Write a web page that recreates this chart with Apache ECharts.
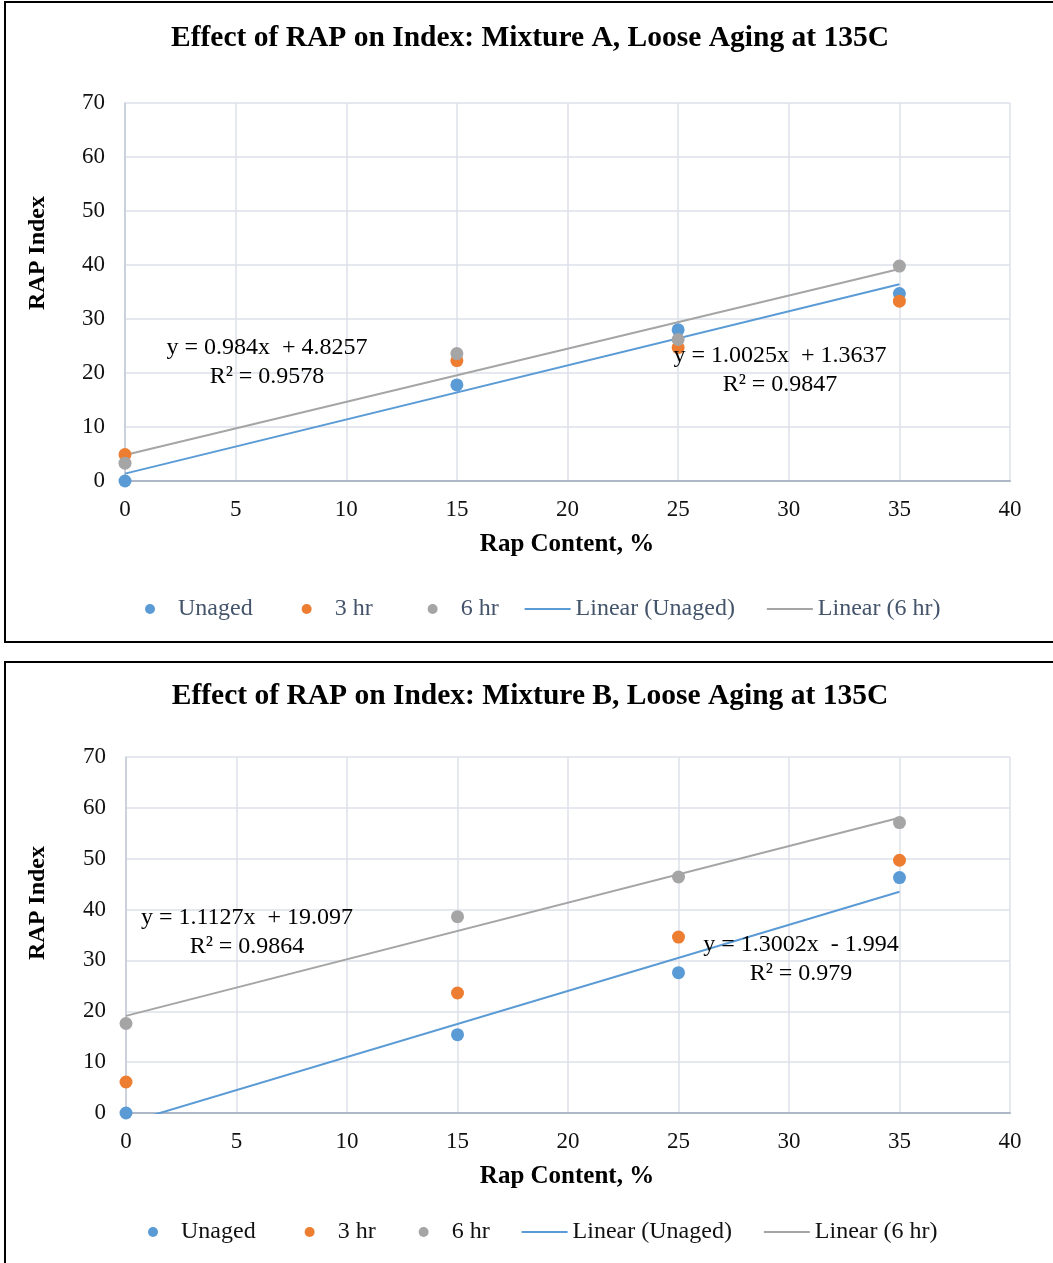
<!DOCTYPE html>
<html>
<head>
<meta charset="utf-8">
<script src="https://cdn.jsdelivr.net/npm/echarts@6/dist/echarts.min.js"></script>
<style>
    html, body { margin: 0; padding: 0; background: #fff; }
    #chart { width: 1053px; height: 1263px; }
</style>
</head>
<body>
<div id="chart"></div>
<script>
    // RAP content (x) shared by both mixtures
    const rapContent = [0, 15, 25, 35];

    // Mixture A
    const mixA_unaged = [0, 17.8, 28.0, 34.7];
    const mixA_3hr = [4.9, 22.3, 24.7, 33.3];
    const mixA_6hr = [3.3, 23.6, 26.2, 39.8];

    // Mixture B
    const mixB_unaged = [0, 15.4, 27.6, 46.3];
    const mixB_3hr = [6.1, 23.6, 34.6, 49.7];
    const mixB_6hr = [17.6, 38.6, 46.4, 57.1];

    // trendline coefficients [slope, intercept] as printed on the chart
    const fitA_unaged = [1.0025, 1.3637];
    const fitA_6hr = [0.984, 4.8257];
    const fitB_unaged = [1.3002, -1.994];
    const fitB_6hr = [1.1127, 19.097];

    const xTicks = [0, 5, 10, 15, 20, 25, 30, 35, 40];
    const yTicks = [0, 10, 20, 30, 40, 50, 60, 70];

    const titles = [
        'Effect of RAP on Index: Mixture A, Loose Aging at 135C',
        'Effect of RAP on Index: Mixture B, Loose Aging at 135C'
    ];

    const SERIF = '"Liberation Serif", "Times New Roman", serif';
    const C_BLUE = '#5B9BD5', C_ORANGE = '#ED7D31', C_GRAY = '#A5A5A5';

    const pts = (ys) => rapContent.map((x, i) => [x, ys[i]]);
    const trend = (fit) => [rapContent[0], rapContent[rapContent.length - 1]].map(x => [x, fit[0] * x + fit[1]]);

    const chart = echarts.init(document.getElementById('chart'));

    const xAxisBase = {
        type: 'value',
        min: xTicks[0],
        max: xTicks[xTicks.length - 1],
        interval: 5,
        axisLine: { show: true, lineStyle: { color: '#AEB7C7', width: 2 } },
        axisTick: { show: false },
        axisLabel: { fontSize: 23, fontFamily: SERIF, color: '#111', margin: 17 },
        splitLine: { show: true, lineStyle: { color: '#DDE1EA', width: 1.5 } }
    };
    const yAxisBase = {
        type: 'value',
        min: yTicks[0],
        max: yTicks[yTicks.length - 1],
        interval: 10,
        axisLine: { show: true, lineStyle: { color: '#C3CAD8', width: 1.5 } },
        axisTick: { show: false },
        axisLabel: { fontSize: 23, fontFamily: SERIF, color: '#111', margin: 20 },
        splitLine: { show: true, lineStyle: { color: '#DDE1EA', width: 1.5 } }
    };

    function scatter(name, ys, color, idx) {
        return {
            name: name, type: 'scatter', xAxisIndex: idx, yAxisIndex: idx,
            data: pts(ys), symbol: 'circle', symbolSize: 13,
            itemStyle: { color: color, opacity: 1 }, z: 3
        };
    }
    function fitLine(name, fit, color, idx) {
        return {
            name: name, type: 'line', xAxisIndex: idx, yAxisIndex: idx,
            data: trend(fit), symbol: 'none', clip: true,
            lineStyle: { color: color, width: 2 }, itemStyle: { color: color }, z: 2
        };
    }

    const eqText = (fit, r2) => {
        const sign = fit[1] < 0 ? '- ' + Math.abs(fit[1]) : '+ ' + fit[1];
        return 'y = ' + fit[0] + 'x  ' + sign + '\nR² = ' + r2;
    };

    function txt(text, x, y, size, weight, extra) {
        return Object.assign({
            type: 'text', x: x, y: y, z: 10,
            style: {
                text: text, fontSize: size, fontWeight: weight, fontFamily: SERIF,
                fill: '#000', align: 'center', verticalAlign: 'middle', lineHeight: 29
            }
        }, extra || {});
    }

    // trailing no-break spaces after each legend entry, to match the Excel spacing
    const legendPadA = { 'Unaged': 4, '3 hr': 5, '6 hr': 0, 'Linear (Unaged)': 1, 'Linear (6 hr)': 0 };
    const legendPadB = { 'Unaged': 4, '3 hr': 3, '6 hr': 1, 'Linear (Unaged)': 1, 'Linear (6 hr)': 0 };

    const hideDot = { color: 'rgba(0,0,0,0)', borderWidth: 0 };

    function makeLegend(pad, left, top, color) {
        return {
            orient: 'horizontal',
            left: left,
            top: top,
            itemWidth: 46,
            itemHeight: 10,
            itemGap: 25,
            formatter: name => name + '\u00A0'.repeat(pad[name] || 0),
            textStyle: { fontSize: 24, fontFamily: SERIF, color: color },
            data: [
                { name: 'Unaged', icon: 'circle' },
                { name: '3 hr', icon: 'circle' },
                { name: '6 hr', icon: 'circle' },
                { name: 'Linear (Unaged)', itemStyle: hideDot },
                { name: 'Linear (6 hr)', itemStyle: hideDot }
            ]
        };
    }

    const option = {
        animation: false,
        backgroundColor: '#fff',
        grid: [
            { left: 125, right: 43, top: 103, height: 378 },
            { left: 126, right: 43, top: 757, height: 356 }
        ],
        xAxis: [
            Object.assign({ gridIndex: 0 }, xAxisBase),
            Object.assign({ gridIndex: 1 }, xAxisBase)
        ],
        yAxis: [
            Object.assign({ gridIndex: 0 }, yAxisBase),
            Object.assign({ gridIndex: 1 }, yAxisBase)
        ],
        legend: [
            makeLegend(legendPadA, 140, 592, '#44546A'),
            makeLegend(legendPadB, 143, 1215, '#111')
        ],
        series: [
            fitLine('Linear (Unaged)', fitA_unaged, C_BLUE, 0),
            fitLine('Linear (6 hr)', fitA_6hr, C_GRAY, 0),
            scatter('Unaged', mixA_unaged, C_BLUE, 0),
            scatter('3 hr', mixA_3hr, C_ORANGE, 0),
            scatter('6 hr', mixA_6hr, C_GRAY, 0),
            fitLine('Linear (Unaged)', fitB_unaged, C_BLUE, 1),
            fitLine('Linear (6 hr)', fitB_6hr, C_GRAY, 1),
            scatter('Unaged', mixB_unaged, C_BLUE, 1),
            scatter('3 hr', mixB_3hr, C_ORANGE, 1),
            scatter('6 hr', mixB_6hr, C_GRAY, 1)
        ],
        graphic: [
            { type: 'rect', shape: { x: 5, y: 2, width: 1100, height: 640 },
              style: { fill: 'none', stroke: '#000', lineWidth: 2 }, z: 0 },
            { type: 'rect', shape: { x: 5, y: 662, width: 1100, height: 700 },
              style: { fill: 'none', stroke: '#000', lineWidth: 2 }, z: 0 },
            txt(titles[0], 530, 38, 29.5, 'bold'),
            txt(titles[1], 530, 696, 29.5, 'bold'),
            txt('RAP Index', 38, 253, 24, 'bold', { rotation: Math.PI / 2 }),
            txt('RAP Index', 38, 903, 24, 'bold', { rotation: Math.PI / 2 }),
            txt('Rap Content, %', 567, 545, 25, 'bold'),
            txt('Rap Content, %', 567, 1177, 25, 'bold'),
            txt(eqText(fitA_6hr, 0.9578), 267, 362, 24, 'normal'),
            txt(eqText(fitA_unaged, 0.9847), 780, 370, 24, 'normal'),
            txt(eqText(fitB_6hr, 0.9864), 247, 932, 24, 'normal'),
            txt(eqText(fitB_unaged, 0.979), 801, 959, 24, 'normal')
        ]
    };

    chart.setOption(option);
</script>
</body>
</html>
